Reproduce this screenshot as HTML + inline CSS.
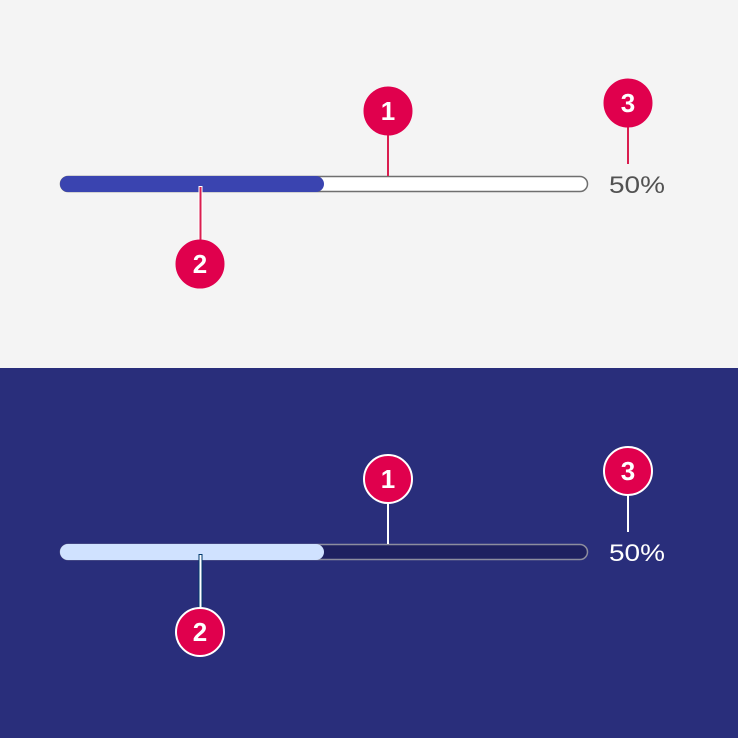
<!DOCTYPE html>
<html><head><meta charset="utf-8"><style>
html,body{margin:0;padding:0;background:#f4f4f4;}
svg{display:block;}
</style></head><body>
<svg id="chart" width="738" height="738" viewBox="0 0 738 738" font-family="Liberation Sans, sans-serif"></svg>
<script>
const progressValues=[50];
const badgeLabels=['1','2','3'];
const percentLabels=['50%'];
const themes=['light','dark'];

const NS='http://www.w3.org/2000/svg';
const svg=document.getElementById('chart');
function mk(tag,attrs,parent){const e=document.createElementNS(NS,tag);for(const k in attrs)e.setAttribute(k,attrs[k]);(parent||svg).appendChild(e);return e;}
const x0=60,x1=588,barH=16;
const xScale=v=>x0+(x1-x0)*v/100;
themes.forEach((t,i)=>{
  const oy=i*368;
  const dark=t==='dark';
  const g=mk('g',{});
  
  
  const bg=mk('rect',{x:0,y:oy,width:738,height:i?370:368,fill:dark?'#292e7b':'#f4f4f4'},g);
  
  
  const by=oy+176;
  const track=mk('rect',{x:x0+0.5,y:by+0.5,width:x1-x0-1,height:barH-1,rx:7.5,fill:dark?'#1f2160':'#ffffff',stroke:dark?'#8d8d9e':'#6f6f6f','stroke-width':1.5},g);
  
  
  const fill=mk('rect',{x:x0,y:by,width:xScale(progressValues[0])-x0,height:barH,rx:8,fill:dark?'#d0e2ff':'#3a44b0'},g);
  
  
  const pct=mk('text',{x:609,y:oy+193,'font-size':24,textLength:56,lengthAdjust:'spacingAndGlyphs',fill:dark?'#ffffff':'#525252'},g);
  pct.textContent=percentLabels[0];
  
  
  const lc=dark?'#ffffff':'#da1e4f';
  mk('line',{x1:388,y1:oy+135,x2:388,y2:by,stroke:lc,'stroke-width':2},g);
  mk('line',{x1:628,y1:oy+127,x2:628,y2:oy+164,stroke:lc,'stroke-width':2},g);
  mk('rect',{x:198.5,y:by+10,width:4,height:56,fill:dark?'#003a6d':'#ffffff'},g);
  mk('line',{x1:200.5,y1:by+11,x2:200.5,y2:oy+242,stroke:dark?'#ffffff':'#da1e4f','stroke-width':2},g);
  const badges=[[388,111],[200,264],[628,103]];
  badges.forEach((b,j)=>{
    const c=mk('circle',{cx:b[0],cy:oy+b[1],r:24,fill:'#e0004d',stroke:dark?'#ffffff':'#e0004d','stroke-width':dark?2:1},g);
    
    
    const tx=mk('text',{x:b[0],y:oy+b[1]+9,'font-size':26,'font-weight':'bold',fill:'#ffffff','text-anchor':'middle'},g);
    tx.textContent=badgeLabels[j];
    
    
  });
});
</script>
</body></html>
